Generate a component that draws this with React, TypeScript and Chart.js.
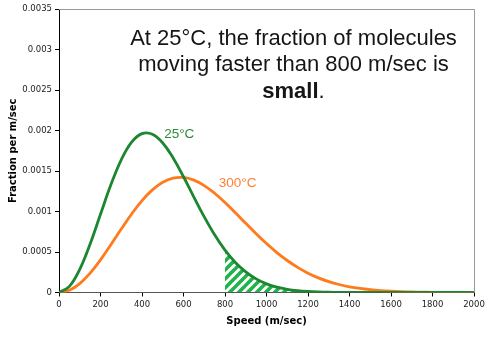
import React, { useEffect, useRef } from "react";
import { Chart, registerables } from "chart.js";

Chart.register(...registerables);

// ---- data ----
const SPEEDS = [
  0, 50, 100, 150, 200, 250, 300, 350, 400, 450, 500, 550, 600, 650, 700, 750, 800, 850, 900, 950, 1000,
  1050, 1100, 1150, 1200, 1250, 1300, 1350, 1400, 1450, 1500, 1550, 1600, 1650, 1700, 1750, 1800, 1850, 1900, 1950, 2000,
];
const FRACTION_25C = [
  0, 0.000075, 0.000286, 0.000599, 0.000966, 0.001329, 0.001638, 0.001856, 0.001962, 0.001954, 0.001846, 0.001661,
  0.001429, 0.001178, 0.000934, 0.000712, 0.000523, 0.000371, 0.000254, 0.000168, 0.000107, 0.0000663, 0.0000397,
  0.000023, 0.0000129, 0.0000071, 0.0000037, 0.0000018, 0.0000009, 0.0000004, 0.0000002, 0, 0, 0, 0, 0, 0, 0, 0, 0, 0,
];
const FRACTION_300C = [
  0, 0.000028, 0.00011, 0.000239, 0.000403, 0.00059, 0.000783, 0.000969, 0.001134, 0.001267, 0.001361, 0.001412,
  0.00142, 0.001387, 0.00132, 0.001225, 0.00111, 0.000984, 0.000854, 0.000725, 0.000604, 0.000493, 0.000395,
  0.00031, 0.000239, 0.000181, 0.000135, 0.0000987, 0.0000709, 0.0000501, 0.0000348, 0.0000237, 0.000016,
  0.0000105, 0.0000068, 0.0000044, 0.0000027, 0.0000017, 0.000001, 0.0000006, 0.0000003,
];
const HATCH_FROM_SPEED = 800;
const HATCH_TO_SPEED = 1400;
const SERIES_LABELS = ["25°C", "300°C"];
const X_TICK_LABELS = ["0", "200", "400", "600", "800", "1000", "1200", "1400", "1600", "1800", "2000"];
const Y_TICK_LABELS = ["0", "0.0005", "0.001", "0.0015", "0.002", "0.0025", "0.003", "0.0035"];
const X_TITLE = "Speed (m/sec)";
const Y_TITLE = "Fraction per m/sec";
const NOTE_LINES = ["At 25°C, the fraction of molecules", "moving faster than 800 m/sec is"];
const NOTE_BOLD = "small";
const NOTE_END = ".";

const GREEN = "#1c8630";
const ORANGE = "#ff7a1a";
const HATCH_GREEN = "#22b24c";

function makeHatch(): CanvasPattern | string {
  const c = document.createElement("canvas");
  c.width = 9;
  c.height = 9;
  const g = c.getContext("2d");
  if (!g) return HATCH_GREEN;
  g.strokeStyle = HATCH_GREEN;
  g.lineWidth = 3.6;
  g.lineCap = "square";
  const seg = (x1: number, y1: number, x2: number, y2: number) => {
    g.beginPath();
    g.moveTo(x1, y1);
    g.lineTo(x2, y2);
    g.stroke();
  };
  seg(-3, 12, 12, -3);
  seg(-12, 12, 12, -12);
  seg(-3, 21, 21, -3);
  const p = g.createPattern(c, "repeat");
  return p || HATCH_GREEN;
}

const decorPlugin = {
  id: "decor",
  afterDraw(chart: any) {
    const { ctx, chartArea } = chart;
    const xs = chart.scales.x;
    const ys = chart.scales.y;
    ctx.save();
    // top and right frame
    ctx.strokeStyle = "#9a9a9a";
    ctx.lineWidth = 1;
    ctx.beginPath();
    ctx.moveTo(chartArea.left, Math.round(chartArea.top) + 0.5);
    ctx.lineTo(Math.round(chartArea.right) + 0.5, Math.round(chartArea.top) + 0.5);
    ctx.lineTo(Math.round(chartArea.right) + 0.5, chartArea.bottom);
    ctx.stroke();

    // series labels
    ctx.font = "13.5px 'Liberation Sans', Arial, sans-serif";
    ctx.textBaseline = "alphabetic";
    ctx.textAlign = "left";
    ctx.fillStyle = "#2a8c3a";
    ctx.fillText(SERIES_LABELS[0], xs.getPixelForValue(507), ys.getPixelForValue(0.00191));
    ctx.fillStyle = "#ff8038";
    ctx.fillText(SERIES_LABELS[1], xs.getPixelForValue(770), ys.getPixelForValue(0.0013));

    // note text
    const cx = 293.5;
    ctx.fillStyle = "#151515";
    ctx.textAlign = "center";
    ctx.font = "22px 'Liberation Sans', Arial, sans-serif";
    ctx.fillText(NOTE_LINES[0], cx, 44.5);
    ctx.fillText(NOTE_LINES[1], cx, 71);
    ctx.textAlign = "left";
    ctx.font = "bold 22px 'Liberation Sans', Arial, sans-serif";
    const wb = ctx.measureText(NOTE_BOLD).width;
    ctx.font = "22px 'Liberation Sans', Arial, sans-serif";
    const we = ctx.measureText(NOTE_END).width;
    const start = cx - (wb + we) / 2;
    ctx.font = "bold 22px 'Liberation Sans', Arial, sans-serif";
    ctx.fillText(NOTE_BOLD, start, 97.5);
    ctx.font = "22px 'Liberation Sans', Arial, sans-serif";
    ctx.fillText(NOTE_END, start + wb, 97.5);
    ctx.restore();
  },
};

export default function App() {
  const ref = useRef<HTMLCanvasElement | null>(null);

  useEffect(() => {
    document.body.style.margin = "0";
    const canvas = ref.current;
    if (!canvas) return;
    Chart.defaults.font.family = "'DejaVu Sans', Verdana, sans-serif";

    const pts = (ys: number[]) => SPEEDS.map((s, i) => ({ x: s, y: ys[i] }));
    const hatchPts = pts(FRACTION_25C).filter((p) => p.x >= HATCH_FROM_SPEED && p.x <= HATCH_TO_SPEED);

    const chart = new Chart(canvas, {
      type: "line",
      data: {
        datasets: [
          {
            label: SERIES_LABELS[0],
            data: pts(FRACTION_25C),
            borderColor: GREEN,
            borderWidth: 2.8,
            pointRadius: 0,
            tension: 0.4,
            fill: false,
          },
          {
            label: SERIES_LABELS[1],
            data: pts(FRACTION_300C),
            borderColor: ORANGE,
            borderWidth: 2.8,
            pointRadius: 0,
            tension: 0.4,
            fill: false,
          },
          {
            label: "hatch",
            data: hatchPts,
            borderWidth: 0,
            borderColor: "rgba(0,0,0,0)",
            backgroundColor: makeHatch() as any,
            pointRadius: 0,
            tension: 0.4,
            fill: "origin",
          },
        ],
      },
      options: {
        responsive: false,
        animation: false,
        devicePixelRatio: 1,
        layout: { padding: { left: 0, right: 26, top: 9, bottom: 0 } },
        plugins: { legend: { display: false }, tooltip: { enabled: false } },
        scales: {
          x: {
            type: "linear",
            min: 0,
            max: 2000,
            ticks: {
              stepSize: 200,
              color: "#222",
              font: { size: 8.5 },
              padding: 3,
              maxRotation: 0,
              autoSkip: false,
              callback: (v: any) => X_TICK_LABELS[Math.round(Number(v) / 200)] ?? "",
            },
            grid: { display: true, drawOnChartArea: false, drawTicks: true, tickLength: 4, color: "#000" },
            border: { display: true, color: "#555", width: 1 },
            title: {
              display: true,
              text: X_TITLE,
              color: "#000",
              font: { size: 10, weight: "bold" },
              padding: { top: 0, bottom: 11 },
            },
            afterFit(s: any) {
              s.height = 45.5;
            },
          },
          y: {
            type: "linear",
            min: 0,
            max: 0.0035,
            ticks: {
              stepSize: 0.0005,
              color: "#222",
              font: { size: 8.5 },
              padding: 3,
              callback: (v: any) => Y_TICK_LABELS[Math.round(Number(v) / 0.0005)] ?? "",
            },
            grid: { display: true, drawOnChartArea: false, drawTicks: true, tickLength: 4, color: "#000" },
            border: { display: true, color: "#000", width: 1 },
            title: {
              display: true,
              text: Y_TITLE,
              color: "#000",
              font: { size: 10, weight: "bold" },
              padding: { top: 7.5, bottom: 0 },
            },
            afterFit(s: any) {
              s.width = 59;
            },
          },
        },
      },
      plugins: [decorPlugin],
    } as any);

    return () => chart.destroy();
  }, []);

  return (
    <div style={{ position: "absolute", left: 0, top: 0, width: 500, height: 338, background: "#fff" }}>
      <canvas ref={ref} width={500} height={338} />
    </div>
  );
}
